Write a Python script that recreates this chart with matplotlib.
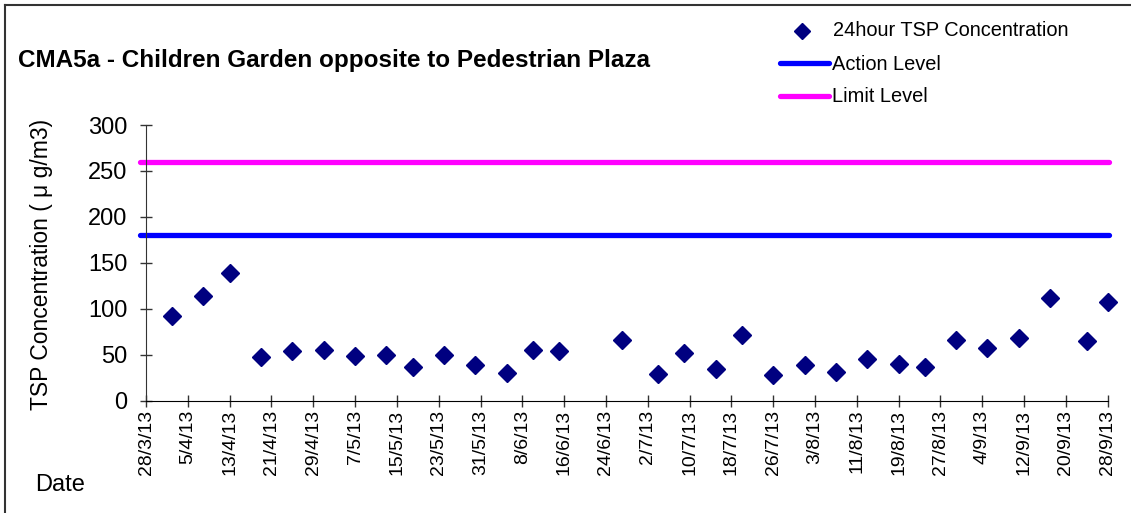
import matplotlib
matplotlib.use("Agg")
import matplotlib.pyplot as plt
from matplotlib.lines import Line2D
import datetime as dt

plt.rcParams['font.family'] = ['Liberation Sans', 'DejaVu Sans']

# ---- data ----
dates = ["2013-04-02", "2013-04-08", "2013-04-13", "2013-04-19", "2013-04-25",
         "2013-05-01", "2013-05-07", "2013-05-13", "2013-05-18", "2013-05-24",
         "2013-05-30", "2013-06-05", "2013-06-10", "2013-06-15", "2013-06-27",
         "2013-07-04", "2013-07-09", "2013-07-15", "2013-07-20", "2013-07-26",
         "2013-08-01", "2013-08-07", "2013-08-13", "2013-08-19", "2013-08-24",
         "2013-08-30", "2013-09-05", "2013-09-11", "2013-09-17", "2013-09-24",
         "2013-09-28"]
tsp = [92, 114, 139, 48, 54, 55, 49, 50, 37, 50,
       39, 30, 55, 54, 66, 29, 52, 34, 72, 28,
       39, 31, 45, 40, 37, 66, 57, 68, 112, 65, 107]
action_level = 180
limit_level = 260
tick_labels = ["28/3/13", "5/4/13", "13/4/13", "21/4/13", "29/4/13", "7/5/13",
               "15/5/13", "23/5/13", "31/5/13", "8/6/13", "16/6/13", "24/6/13",
               "2/7/13", "10/7/13", "18/7/13", "26/7/13", "3/8/13", "11/8/13",
               "19/8/13", "27/8/13", "4/9/13", "12/9/13", "20/9/13", "28/9/13"]
y_ticks = [0, 50, 100, 150, 200, 250, 300]

W, H = 1131, 513
fig = plt.figure(figsize=(W / 100, H / 100), dpi=100)
ax = fig.add_axes([146 / W, (H - 400.7) / H, (1107.7 - 146) / W, (400.7 - 125) / H])

x = [dt.datetime.strptime(d, "%Y-%m-%d") for d in dates]
tick_dates = [dt.datetime.strptime(t, "%d/%m/%y") for t in tick_labels]
x0, x1 = tick_dates[0], tick_dates[-1]

ax.plot([x0 - dt.timedelta(days=1.2), x1 + dt.timedelta(days=0.3)], [action_level] * 2,
        color='#0000FF', lw=3.8, solid_capstyle='round', clip_on=False, zorder=2)
ax.plot([x0 - dt.timedelta(days=1.2), x1 + dt.timedelta(days=0.3)], [limit_level] * 2,
        color='#FF00FF', lw=3.8, solid_capstyle='round', clip_on=False, zorder=2)
ax.plot(x, tsp, linestyle='none', marker='D', markersize=9, color='#000080',
        clip_on=False, zorder=3)

ax.set_xlim(x0, x1)
ax.set_ylim(0, 300)
ax.set_xticks(tick_dates)
ax.set_xticklabels(tick_labels, rotation=90, fontsize=14)
ax.set_yticks(y_ticks)
ax.set_yticklabels([str(v) for v in y_ticks], fontsize=17)
ax.tick_params(axis='both', direction='inout', length=9, width=1, color='#333333')
ax.tick_params(axis='x', pad=2)
ax.tick_params(axis='y', pad=9)
for s in ['top', 'right']:
    ax.spines[s].set_visible(False)
ax.spines['left'].set_color('#333333')
ax.spines['bottom'].set_color('#000000')

ax.set_ylabel("TSP Concentration ( \u03bc g/m3)", fontsize=16.5)
ax.yaxis.set_label_coords(-93 / (1107.7 - 146), 0.495)

fig.text(18 / W, 1 - 61 / H, "CMA5a - Children Garden opposite to Pedestrian Plaza",
         fontsize=17.5, fontweight='bold', va='center', ha='left')
fig.text(35 / W, 1 - 485 / H, "Date", fontsize=17, va='center', ha='left')

# legend
fig.add_artist(Line2D([802 / W], [1 - 31 / H], marker='D', markersize=8, color='#000080',
                      linestyle='none'))
fig.text(833 / W, 1 - 31 / H, "24hour TSP Concentration", fontsize=14.4, va='center')
fig.add_artist(Line2D([780 / W, 829 / W], [1 - 63 / H] * 2, color='#0000FF', lw=3.8,
                      solid_capstyle='round'))
fig.text(832 / W, 1 - 64 / H, "Action Level", fontsize=14.4, va='center')
fig.add_artist(Line2D([780 / W, 829 / W], [1 - 96 / H] * 2, color='#FF00FF', lw=3.8,
                      solid_capstyle='round'))
fig.text(832 / W, 1 - 97 / H, "Limit Level", fontsize=14.4, va='center')

# outer frame (left and top edges visible)
fig.add_artist(Line2D([5 / W, 5 / W], [0, 1 - 5 / H], color='#333333', lw=1.5))
fig.add_artist(Line2D([5 / W, 1], [1 - 5 / H, 1 - 5 / H], color='#333333', lw=1.5))

fig.savefig("out.png", dpi=100)
